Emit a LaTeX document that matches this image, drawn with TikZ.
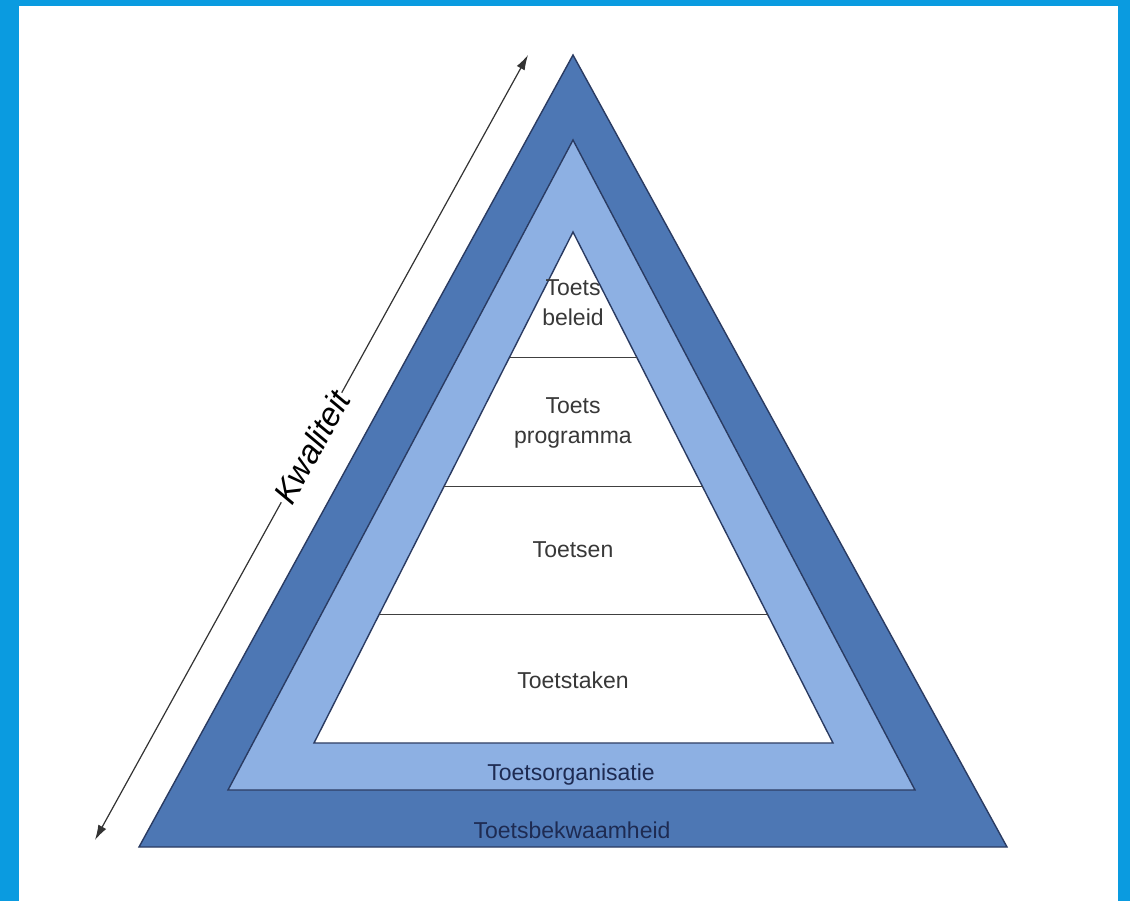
\documentclass[tikz,border=0pt]{standalone}
\usepackage{fontspec}
\setmainfont{Liberation Sans}
\usetikzlibrary{arrows.meta,calc,positioning}

\definecolor{frameblue}{HTML}{0A9BE0}
\definecolor{darkband}{HTML}{4D77B4}
\definecolor{lightband}{HTML}{8DB0E3}
\definecolor{edgeline}{HTML}{2A3B62}
\definecolor{labelnavy}{HTML}{1E2B52}
\definecolor{labelgray}{HTML}{383838}

\tikzset{
  band/.style = {draw=edgeline, line width=1.4pt, line join=miter},
  layerlabel/.style = {align=center, text=labelgray, font=\fontsize{23}{30}\selectfont},
  bandlabel/.style = {text=labelnavy, font=\fontsize{23}{28}\selectfont},
}

\begin{document}
\begin{tikzpicture}[x=1pt,y=-1pt]
        \fill[frameblue] (0,0) rectangle (1130,901);
        \fill[white] (19,6) rectangle (1118,901);
        \useasboundingbox (0,0) rectangle (1130,901);

        % corners of the three triangles
        \coordinate (outerTop) at (573,55);
        \coordinate (outerL) at (139,847);
        \coordinate (outerR) at (1007,847);
        \coordinate (midTop) at (573,140);
        \coordinate (midL) at (228,790);
        \coordinate (midR) at (915,790);
        \coordinate (innerTop) at (573,232);
        \coordinate (innerL) at (314,743);
        \coordinate (innerR) at (833,743);

        \filldraw[band, fill=darkband] (outerTop) -- (outerL) -- (outerR) -- cycle;
        \filldraw[band, fill=lightband] (midTop) -- (midL) -- (midR) -- cycle;
        \filldraw[band, fill=white] (innerTop) -- (innerL) -- (innerR) -- cycle;

        % layer separators
        \coordinate (sepAL) at ($(innerTop)!0.245!(innerL)$);
        \coordinate (sepAR) at ($(innerTop)!0.245!(innerR)$);
        \coordinate (sepBL) at ($(innerTop)!0.499!(innerL)$);
        \coordinate (sepBR) at ($(innerTop)!0.499!(innerR)$);
        \coordinate (sepCL) at ($(innerTop)!0.7495!(innerL)$);
        \coordinate (sepCR) at ($(innerTop)!0.7495!(innerR)$);
        \draw[black!75, line width=1pt] (sepAL) -- (sepAR);
        \draw[black!75, line width=1pt] (sepBL) -- (sepBR);
        \draw[black!75, line width=1pt] (sepCL) -- (sepCR);

        \node[layerlabel] (beleid) at (573,303) {Toets\\beleid};
        \node[layerlabel] (programma) at (573,423) {Toets\\programma};
        \node[layerlabel] (toetsen) at (573,550) {Toetsen};
        \node[layerlabel] (toetstaken) at (573,680) {Toetstaken};
        \node[bandlabel] (organisatie) at (571,775) {Toetsorganisatie};
        \node[bandlabel] (bekwaamheid) at (572,830) {Toetsbekwaamheid};

        % quality axis
        \coordinate (qLow) at (95,840);
        \coordinate (qHigh) at (528,55);
        \draw[{Latex[length=15pt,width=9pt]}-{Latex[length=15pt,width=9pt]}, draw=black!80, line width=1.2pt] (qLow) -- (qHigh)
              node[midway, sloped, fill=white, inner sep=1pt,
                   font=\fontsize{33}{36}\selectfont\itshape] (kwaliteit) {Kwaliteit};
      \end{tikzpicture}
\end{document}
